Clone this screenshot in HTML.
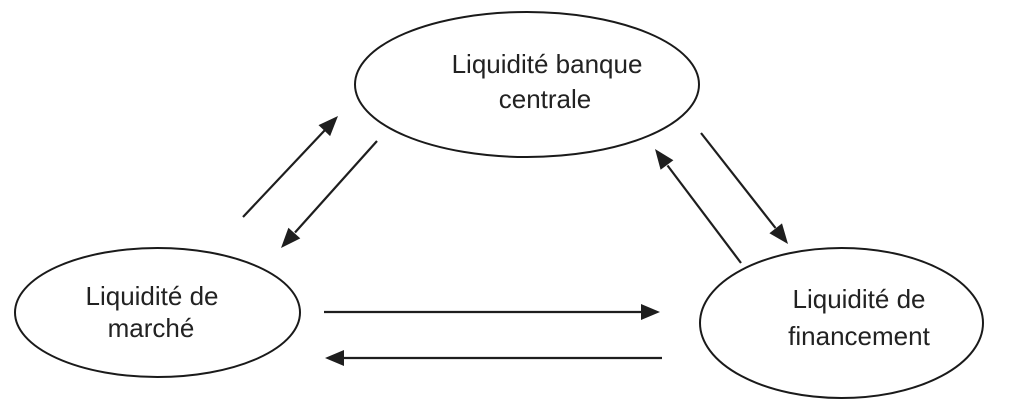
<!DOCTYPE html>
<html>
<head>
<meta charset="utf-8">
<style>
  html, body { margin: 0; padding: 0; background: #ffffff; }
  body { width: 1024px; height: 407px; overflow: hidden; }
  svg { display: block; }
  text { font-family: "Liberation Sans", Arial, sans-serif; font-size: 26px; fill: #222; }
</style>
</head>
<body>
<svg width="1024" height="407" viewBox="0 0 1024 407" xmlns="http://www.w3.org/2000/svg">
  <rect x="0" y="0" width="1024" height="407" fill="#ffffff"/>

  <!-- Ellipses -->
  <ellipse cx="527" cy="84.5" rx="172" ry="72.5" fill="none" stroke="#1a1a1a" stroke-width="2"/>
  <ellipse cx="157.5" cy="312.5" rx="142.5" ry="64.5" fill="none" stroke="#1a1a1a" stroke-width="2"/>
  <ellipse cx="841.5" cy="323" rx="141.5" ry="75" fill="none" stroke="#1a1a1a" stroke-width="2"/>

  <!-- Labels -->
  <text x="547" y="73" text-anchor="middle">Liquidité banque</text>
  <text x="545" y="108" text-anchor="middle">centrale</text>

  <text x="152" y="305" text-anchor="middle">Liquidité de</text>
  <text x="151" y="337" text-anchor="middle">marché</text>

  <text x="859" y="308" text-anchor="middle">Liquidité de</text>
  <text x="859" y="345" text-anchor="middle">financement</text>

  <!-- Arrows -->
  <g stroke="#1e1e1e" stroke-width="2.2" fill="none" stroke-linecap="butt">
    <line x1="243" y1="217" x2="325" y2="130"/>
    <line x1="377" y1="141" x2="295" y2="232.5"/>
    <line x1="741" y1="263" x2="667.5" y2="165.5"/>
    <line x1="701" y1="133" x2="775.5" y2="228"/>
    <line x1="324" y1="312" x2="642" y2="312"/>
    <line x1="662" y1="358" x2="343" y2="358"/>
  </g>
  <g fill="#1e1e1e" stroke="none">
    <polygon points="338,116 330.1,136.1 318.5,125.1"/>
    <polygon points="281,248 300.3,238.4 288.4,227.8"/>
    <polygon points="655,149 673.4,160.2 660.6,169.8"/>
    <polygon points="788,244 782,223.4 769.4,233.2"/>
    <polygon points="660,312 641,304 641,320"/>
    <polygon points="325,358 344,350 344,366"/>
  </g>
</svg>
</body>
</html>
